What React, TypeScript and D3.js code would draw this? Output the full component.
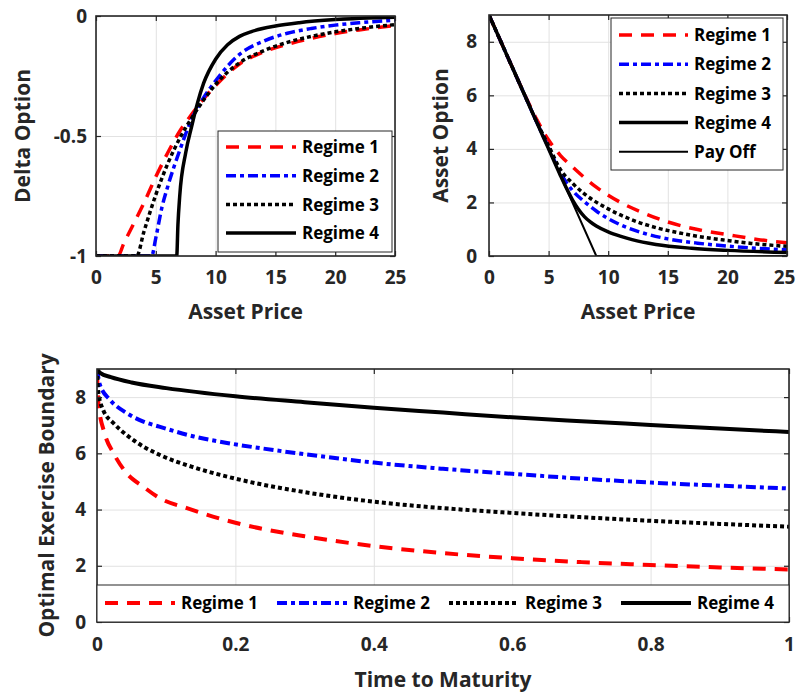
import React, { useEffect, useRef } from 'react';
import * as d3 from 'd3';

type Pt = [number, number];

// ---- data ----
const regimeLabels = ['Regime 1', 'Regime 2', 'Regime 3', 'Regime 4'];

const assetTicks = [0, 5, 10, 15, 20, 25];
const deltaTicks = [-1, -0.5, 0];
const optionTicks = [0, 2, 4, 6, 8];
const timeTicks = [0, 0.2, 0.4, 0.6, 0.8, 1];
const boundaryTicks = [0, 2, 4, 6, 8];

// delta option vs asset price
const deltaRegime1: Pt[] = [[0, -1], [1.85, -1], [2.3, -0.95], [3, -0.88], [4, -0.78], [5, -0.67], [6, -0.57], [7, -0.48], [8, -0.41], [9, -0.345], [10, -0.29], [12, -0.2], [14, -0.15], [16, -0.118], [18, -0.093], [20, -0.073], [22, -0.058], [25, -0.04]];
const deltaRegime2: Pt[] = [[0, -1], [4.65, -1], [5, -0.925], [5.5, -0.8], [6, -0.71], [7, -0.56], [8, -0.43], [9, -0.34], [10, -0.27], [12, -0.16], [14, -0.105], [16, -0.072], [18, -0.052], [20, -0.038], [22, -0.028], [25, -0.018]];
const deltaRegime3: Pt[] = [[0, -1], [3.4, -1], [4, -0.9], [5, -0.745], [6, -0.615], [7, -0.51], [8, -0.425], [9, -0.35], [10, -0.285], [12, -0.195], [14, -0.145], [16, -0.11], [18, -0.085], [20, -0.066], [22, -0.052], [25, -0.036]];
const deltaRegime4: Pt[] = [[0, -1], [6.75, -1], [6.85, -0.87], [7, -0.75], [7.5, -0.57], [8, -0.46], [8.5, -0.36], [9, -0.28], [10, -0.18], [11, -0.12], [12, -0.085], [13, -0.065], [15, -0.042], [17, -0.028], [20, -0.015], [25, -0.005]];

// asset option value vs asset price
const optionRegime1: Pt[] = [[0, 9], [1, 8], [2, 7], [3, 6.02], [4, 5.1], [5, 4.33], [6, 3.75], [7, 3.33], [8, 2.93], [9, 2.57], [10, 2.27], [11, 2.01], [13, 1.6], [15, 1.27], [17.5, 0.99], [20, 0.8], [22.5, 0.62], [25, 0.49]];
const optionRegime2: Pt[] = [[0, 9], [1, 8], [2, 7], [3, 6], [4, 5], [5, 4.04], [6, 3.1], [7, 2.45], [8, 2.03], [9, 1.68], [11, 1.17], [13, 0.85], [15, 0.64], [17.5, 0.48], [20, 0.37], [22.5, 0.29], [25, 0.23]];
const optionRegime3: Pt[] = [[0, 9], [1, 8], [2, 7], [3, 6], [4, 5.01], [5, 4.12], [6, 3.22], [7, 2.72], [8, 2.32], [10, 1.76], [12, 1.35], [14, 1.06], [16, 0.86], [18, 0.7], [20, 0.58], [22, 0.47], [25, 0.36]];
const optionRegime4: Pt[] = [[0, 9], [1, 8], [2, 7], [3, 6], [4, 5], [5, 4], [6, 3.0], [6.5, 2.53], [7, 2.1], [7.5, 1.75], [8, 1.47], [8.5, 1.27], [9, 1.12], [10, 0.9], [11, 0.74], [12, 0.61], [14, 0.43], [17, 0.29], [20, 0.21], [25, 0.13]];
const payOff: Pt[] = [[0, 9], [9, 0], [25, 0]];

// optimal exercise boundary vs time to maturity
const boundaryRegime1: Pt[] = [[0, 8.85], [0.002, 7.78], [0.011, 6.71], [0.024, 6.0], [0.043, 5.29], [0.067, 4.81], [0.091, 4.4], [0.13, 4.05], [0.2, 3.53], [0.3, 3.05], [0.4, 2.7], [0.5, 2.45], [0.6, 2.27], [0.7, 2.13], [0.8, 2.03], [0.9, 1.94], [1, 1.87]];
const boundaryRegime2: Pt[] = [[0, 9], [0.004, 8.45], [0.019, 7.9], [0.043, 7.43], [0.067, 7.13], [0.09, 6.95], [0.14, 6.6], [0.19, 6.36], [0.24, 6.17], [0.3, 5.97], [0.4, 5.67], [0.5, 5.45], [0.6, 5.27], [0.7, 5.1], [0.8, 4.96], [0.9, 4.85], [1, 4.75]];
const boundaryRegime3: Pt[] = [[0, 9], [0.002, 8.14], [0.009, 7.54], [0.024, 7.07], [0.043, 6.65], [0.067, 6.24], [0.091, 5.94], [0.14, 5.5], [0.2, 5.1], [0.3, 4.62], [0.4, 4.28], [0.5, 4.05], [0.6, 3.88], [0.7, 3.73], [0.8, 3.6], [0.9, 3.49], [1, 3.39]];
const boundaryRegime4: Pt[] = [[0, 9], [0.005, 8.85], [0.02, 8.71], [0.05, 8.52], [0.1, 8.32], [0.2, 8.03], [0.3, 7.82], [0.4, 7.62], [0.5, 7.45], [0.6, 7.28], [0.7, 7.14], [0.8, 7.01], [0.9, 6.88], [1, 6.76]];

// ---- styles ----
interface LineStyle {
  color: string;
  dash: string | null;
  width: number;
  linear?: boolean;
}

const regimeStyles: LineStyle[] = [
  { color: '#ff0000', dash: '13,9', width: 3.5 },
  { color: '#0000ff', dash: '10,4,4,4', width: 3.5 },
  { color: '#000000', dash: '4,3', width: 3.5 },
  { color: '#000000', dash: null, width: 3.5 },
];
const payOffStyle: LineStyle = { color: '#000000', dash: null, width: 2, linear: true };

const FONT = '"Open Sans", Lato, sans-serif';
const AXIS_COLOR = '#262626';
const GRID_COLOR = '#e2e2e2';

interface Series {
  data: Pt[];
  style: LineStyle;
}

interface PanelOpts {
  id: string;
  left: number;
  right: number;
  top: number;
  bottom: number;
  xDomain: [number, number];
  yDomain: [number, number];
  xTicks: number[];
  yTicks: number[];
  xPad: number;
  yPad: number;
  xLabel: string;
  yLabel: string;
  xLabelY: number;
  yLabelX: number;
  series: Series[];
  lastTickShift?: number;
}

type Sel = d3.Selection<SVGSVGElement, unknown, null, undefined>;

function styleLine(path: d3.Selection<SVGPathElement, unknown, null, undefined>, s: LineStyle) {
  path
    .attr('fill', 'none')
    .attr('stroke', s.color)
    .attr('stroke-width', s.width)
    .attr('stroke-dasharray', s.dash)
    .attr('stroke-linejoin', 'round');
}

function drawPanel(svg: Sel, p: PanelOpts) {
  const x = d3.scaleLinear().domain(p.xDomain).range([p.left, p.right]);
  const y = d3.scaleLinear().domain(p.yDomain).range([p.bottom, p.top]);
  const g = svg.append('g');
  const w = p.right - p.left;
  const h = p.bottom - p.top;

  // grid
  g.append('g')
    .attr('transform', `translate(0,${p.bottom})`)
    .call(d3.axisBottom(x).tickValues(p.xTicks).tickSize(-h).tickFormat(() => ''))
    .call(a => a.select('.domain').remove())
    .selectAll('line').attr('stroke', GRID_COLOR);
  g.append('g')
    .attr('transform', `translate(${p.left},0)`)
    .call(d3.axisLeft(y).tickValues(p.yTicks).tickSize(-w).tickFormat(() => ''))
    .call(a => a.select('.domain').remove())
    .selectAll('line').attr('stroke', GRID_COLOR);

  // curves
  g.append('clipPath').attr('id', p.id)
    .append('rect')
    .attr('x', p.left).attr('y', p.top).attr('width', w).attr('height', h);

  const smooth = d3.line<Pt>().x(d => x(d[0])).y(d => y(d[1])).curve(d3.curveMonotoneX);
  const straight = d3.line<Pt>().x(d => x(d[0])).y(d => y(d[1]));
  p.series.forEach(s => {
    const path = g.append('path')
      .attr('d', (s.style.linear ? straight : smooth)(s.data))
      .attr('clip-path', `url(#${p.id})`);
    styleLine(path, s.style);
  });

  // axes (ticks inward on all four sides)
  const styleAxis = (a: d3.Selection<SVGGElement, unknown, null, undefined>) => {
    a.select('.domain').remove();
    a.selectAll('line').attr('stroke', AXIS_COLOR).attr('stroke-width', 1.2);
    a.selectAll('text')
      .attr('font-family', FONT)
      .attr('font-weight', 700)
      .attr('font-size', 19)
      .attr('fill', AXIS_COLOR);
  };
  const bottomAxis = g.append('g')
    .attr('transform', `translate(0,${p.bottom})`)
    .call(d3.axisBottom(x).tickValues(p.xTicks).tickSize(-5).tickPadding(p.xPad).tickFormat(d => String(d)))
    .call(styleAxis);
  if (p.lastTickShift) {
    bottomAxis.selectAll<SVGTextElement, number>('text')
      .filter(d => d === p.xDomain[1])
      .attr('dx', p.lastTickShift);
  }
  g.append('g')
    .attr('transform', `translate(0,${p.top})`)
    .call(d3.axisTop(x).tickValues(p.xTicks).tickSize(-5).tickFormat(() => ''))
    .call(styleAxis);
  g.append('g')
    .attr('transform', `translate(${p.left},0)`)
    .call(d3.axisLeft(y).tickValues(p.yTicks).tickSize(-5).tickPadding(p.yPad).tickFormat(d => String(d)))
    .call(styleAxis);
  g.append('g')
    .attr('transform', `translate(${p.right},0)`)
    .call(d3.axisRight(y).tickValues(p.yTicks).tickSize(-5).tickFormat(() => ''))
    .call(styleAxis);

  g.append('rect')
    .attr('x', p.left).attr('y', p.top).attr('width', w).attr('height', h)
    .attr('fill', 'none').attr('stroke', AXIS_COLOR).attr('stroke-width', 1.6);

  // axis labels
  g.append('text')
    .attr('x', (p.left + p.right) / 2).attr('y', p.xLabelY)
    .attr('text-anchor', 'middle')
    .attr('font-family', FONT).attr('font-weight', 700).attr('font-size', 21)
    .attr('fill', AXIS_COLOR)
    .text(p.xLabel);
  g.append('text')
    .attr('transform', `translate(${p.yLabelX},${(p.top + p.bottom) / 2}) rotate(-90)`)
    .attr('text-anchor', 'middle')
    .attr('font-family', FONT).attr('font-weight', 700).attr('font-size', 21)
    .attr('fill', AXIS_COLOR)
    .text(p.yLabel);
}

interface LegendEntry {
  label: string;
  style: LineStyle;
}

function drawLegend(
  svg: Sel,
  box: { x: number; y: number; w: number; h: number },
  entries: LegendEntry[],
  place: (i: number) => { x: number; y: number },
  lineLen: number,
) {
  const g = svg.append('g');
  g.append('rect')
    .attr('x', box.x).attr('y', box.y).attr('width', box.w).attr('height', box.h)
    .attr('fill', '#fff').attr('stroke', AXIS_COLOR).attr('stroke-width', 1);
  entries.forEach((e, i) => {
    const { x, y } = place(i);
    const path = g.append('path').attr('d', `M${x},${y}H${x + lineLen}`);
    styleLine(path, e.style);
    g.append('text')
      .attr('x', x + lineLen + 6).attr('y', y)
      .attr('dy', '0.36em')
      .attr('font-family', FONT).attr('font-weight', 700).attr('font-size', 17)
      .attr('fill', '#000')
      .text(e.label);
  });
}

export default function App() {
  const svgRef = useRef<SVGSVGElement>(null);

  useEffect(() => {
    if (!svgRef.current) return;
    const svg = d3.select(svgRef.current);
    svg.selectAll('*').remove();

    const regimeEntries = regimeLabels.map((label, i) => ({ label, style: regimeStyles[i] }));

    // top-left: delta option
    drawPanel(svg, {
      id: 'clip-delta',
      left: 96, right: 395, top: 16, bottom: 256,
      xDomain: [0, 25], yDomain: [-1, 0],
      xTicks: assetTicks, yTicks: deltaTicks,
      xPad: 15, yPad: 9,
      xLabel: 'Asset Price', yLabel: 'Delta Option',
      xLabelY: 319, yLabelX: 30,
      series: [deltaRegime1, deltaRegime2, deltaRegime3, deltaRegime4].map((data, i) => ({ data, style: regimeStyles[i] })),
    });
    drawLegend(svg, { x: 218, y: 131, w: 174, h: 121 }, regimeEntries,
      i => ({ x: 226, y: 147 + i * 28.7 }), 70);

    // top-right: asset option
    drawPanel(svg, {
      id: 'clip-option',
      left: 489, right: 787, top: 15, bottom: 256,
      xDomain: [0, 25], yDomain: [0, 9],
      xTicks: assetTicks, yTicks: optionTicks,
      xPad: 15, yPad: 12,
      xLabel: 'Asset Price', yLabel: 'Asset Option',
      xLabelY: 319, yLabelX: 448,
      lastTickShift: -3,
      series: [
        ...[optionRegime1, optionRegime2, optionRegime3, optionRegime4].map((data, i) => ({ data, style: regimeStyles[i] })),
        { data: payOff, style: payOffStyle },
      ],
    });
    drawLegend(svg, { x: 611, y: 18, w: 172, h: 152 },
      [...regimeEntries, { label: 'Pay Off', style: payOffStyle }],
      i => ({ x: 619, y: 35 + i * 29.2 }), 69);

    // bottom: optimal exercise boundary
    drawPanel(svg, {
      id: 'clip-boundary',
      left: 97, right: 789, top: 369, bottom: 622,
      xDomain: [0, 1], yDomain: [0, 9],
      xTicks: timeTicks, yTicks: boundaryTicks,
      xPad: 16, yPad: 11,
      xLabel: 'Time to Maturity', yLabel: 'Optimal Exercise Boundary',
      xLabelY: 687, yLabelX: 54,
      series: [boundaryRegime1, boundaryRegime2, boundaryRegime3, boundaryRegime4].map((data, i) => ({ data, style: { ...regimeStyles[i], width: 4 } })),
    });
    drawLegend(svg, { x: 97, y: 585, w: 692, h: 37 },
      regimeEntries.map(e => ({ ...e, style: { ...e.style, width: 4 } })),
      i => ({ x: 105 + i * 172, y: 603 }), 70);
  }, []);

  return (
    <svg
      ref={svgRef}
      width={796}
      height={692}
      style={{ position: 'absolute', left: 0, top: 0, background: '#fff' }}
    />
  );
}
